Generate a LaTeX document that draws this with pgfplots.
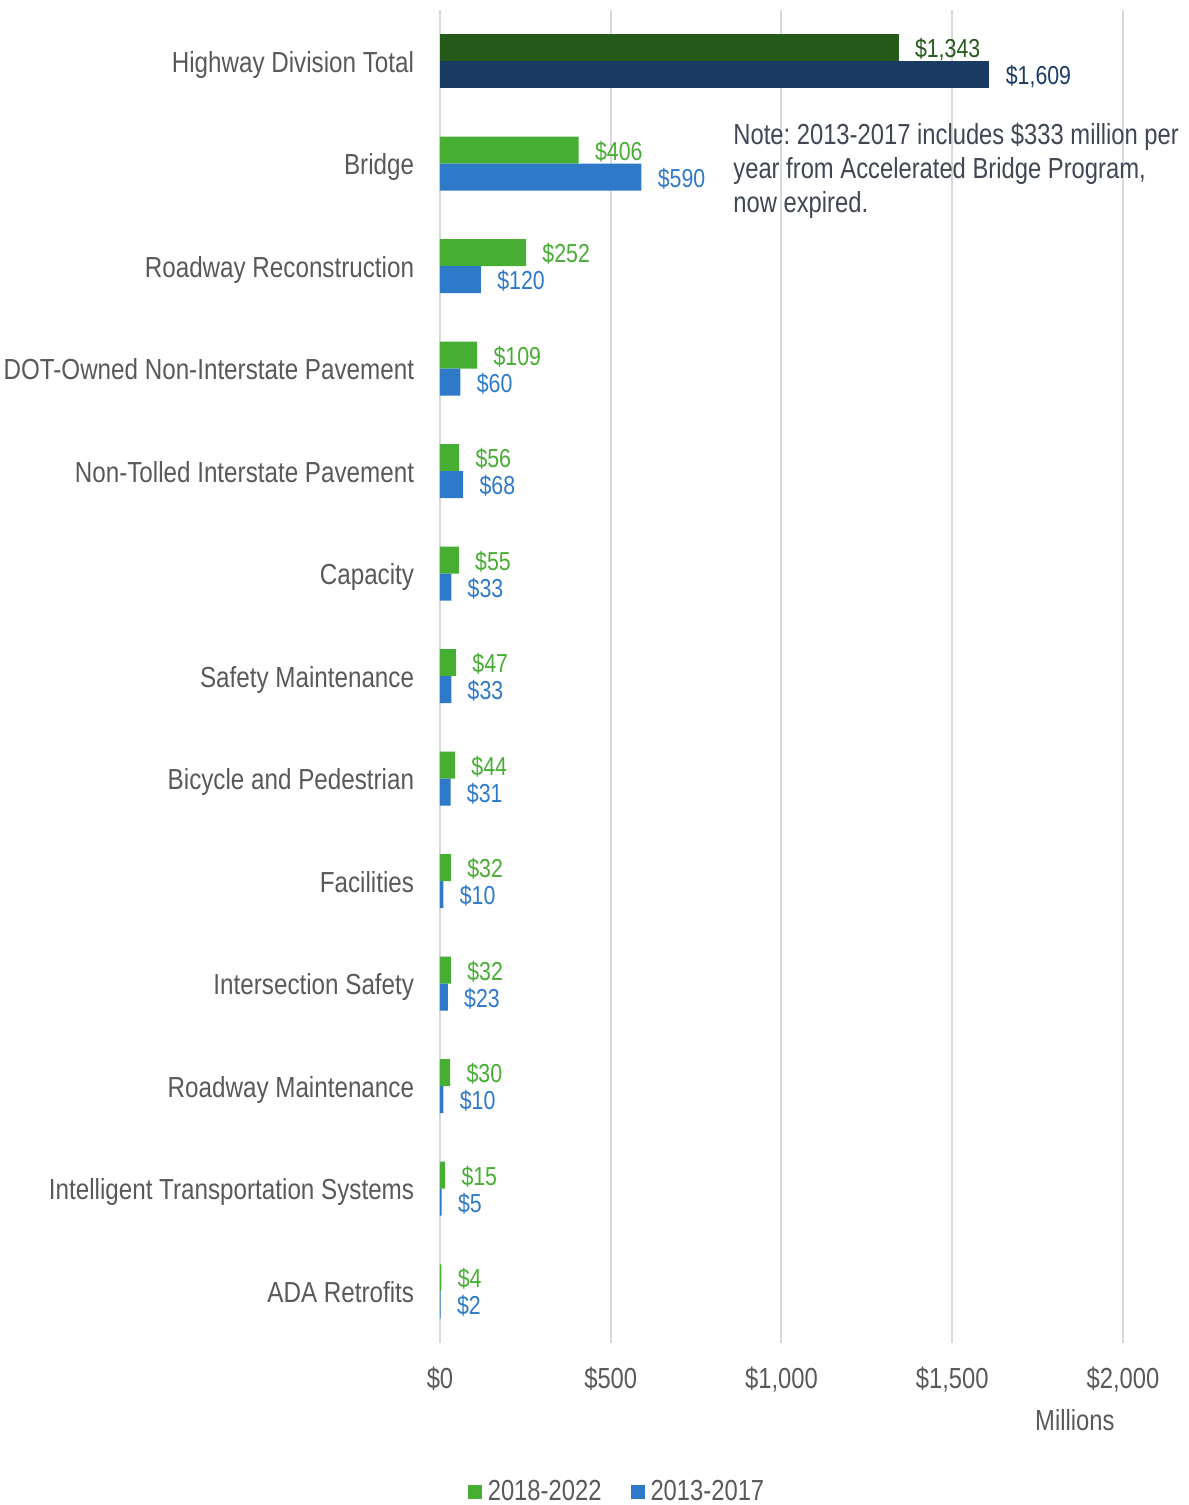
\documentclass[border=0pt]{standalone}
\usepackage{fontspec}
\setmainfont{Liberation Sans}[FakeStretch=0.82]
\newfontfamily\catfont{Liberation Sans}[FakeStretch=0.835]
\usepackage{pgfplots}
\usepackage{pgfplotstable}
\pgfplotsset{compat=1.18}
\frenchspacing
\definecolor{dgreen}{HTML}{255A1B}
\definecolor{navy}{HTML}{1A3C64}
\definecolor{lgreen}{HTML}{46AE33}
\definecolor{lblue}{HTML}{2E7AC9}
\definecolor{txt}{HTML}{595959}
\definecolor{notec}{HTML}{404654}
\definecolor{gridc}{HTML}{D9D9D9}

\pgfplotstableread{
y new old
11 406 590
10 252 120
9 109 60
8 56 68
7 55 33
6 47 33
5 44 31
4 32 10
3 32 23
2 30 10
1 15 5
0 4 2
}\cats
\pgfplotstableread{
y new old
12 1343 1609
}\total

\begin{document}
\begin{tikzpicture}
\begin{axis}[
  at={(0,0)}, anchor=south west,
  scale only axis,
  width=341.5pt, height=666.25pt,
  xmin=0, xmax=2000, ymin=-0.5, ymax=12.5,
  clip=false,
  xbar, bar width=13.5pt,
  axis line style={draw=none},
  tick style={draw=none},
  xmajorgrids, major grid style={gridc, line width=1pt},
  xtick={0,500,1000,1500,2000},
  /pgf/number format/.cd, assume math mode=true, 1000 sep={,}, fixed, precision=0, /pgfplots/.cd,
  xticklabel={\$\pgfmathprintnumber{\tick}},
  xticklabel style={anchor=base, inner sep=0pt, yshift=-23pt, text=txt, font=\fontsize{14.5}{17}\selectfont},
  ytick={0,...,12},
  yticklabels={ADA Retrofits, Intelligent Transportation Systems, Roadway Maintenance, Intersection Safety, Facilities, Bicycle and Pedestrian, Safety Maintenance, Capacity, Non-Tolled Interstate Pavement, DOT-Owned Non-Interstate Pavement, Roadway Reconstruction, Bridge, Highway Division Total},
  yticklabel style={anchor=base east, inner sep=0pt, xshift=-8.5pt, yshift=-5.6pt, text=txt, font=\catfont\fontsize{14.5}{17}\selectfont},
  point meta=x,
  nodes near coords={\$\pgfmathprintnumber{\pgfplotspointmeta}},
  every node near coord/.append style={anchor=base west, inner sep=0pt, xshift=8pt, yshift=-5pt, font=\fontsize{13}{15}\selectfont},
  legend style={at={(0.2599,-0.1122)}, anchor=center, draw=none, fill=none, legend columns=2,
    font=\fontsize{14.5}{17}\selectfont, text=txt,
    /tikz/every odd column/.append style={column sep=1.5pt},
    /tikz/every even column/.append style={column sep=13pt},
    nodes={inner sep=1.5pt}},
  legend image code/.code={\fill[#1] (0pt,-3.5pt) rectangle (7pt,3.5pt);},
]
\addplot[draw=none, fill=lgreen, bar shift=6.75pt, every node near coord/.append style={text=lgreen}] table[x=new, y=y] {\cats};
\addlegendentry{2018-2022}
\addplot[draw=none, fill=lblue, bar shift=-6.75pt, every node near coord/.append style={text=lblue}] table[x=old, y=y] {\cats};
\addlegendentry{2013-2017}
\addplot[forget plot, draw=none, fill=dgreen, bar shift=6.75pt, every node near coord/.append style={text=dgreen}] table[x=new, y=y] {\total};
\addplot[forget plot, draw=none, fill=navy, bar shift=-6.75pt, every node near coord/.append style={text=navy}] table[x=old, y=y] {\total};
\node[anchor=north west, align=left, inner sep=0pt, text=notec, font=\fontsize{14.5}{17}\selectfont] at (axis cs:858,11.397) {Note: 2013-2017 includes \$333 million per\\year from Accelerated Bridge Program,\\now expired.};
\node[anchor=base, inner sep=0pt, text=txt, font=\fontsize{14.5}{17}\selectfont, yshift=-43.75pt] at (axis cs:1859,-0.5) {Millions};
\end{axis}
\pgfresetboundingbox
\useasboundingbox (-220pt,-81.25pt) rectangle (374.5pt,671.25pt);
\end{tikzpicture}
\end{document}
